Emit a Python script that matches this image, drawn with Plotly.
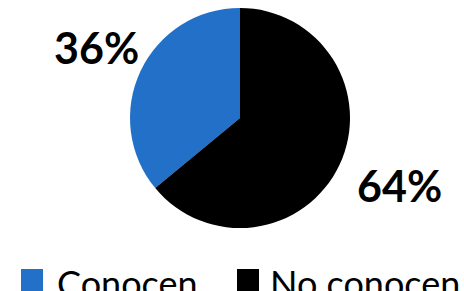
import plotly.graph_objects as go

categories = ["Conocen", "No conocen"]
values = [36, 64]
colors = ["#2270C8", "#000000"]
label_pos = [(96, 48), (399, 185)]          # label centres in px
legend_sq_x = [21, 237]                      # legend square left edges in px
legend_txt_x = [55, 268]

W, H = 464, 291
total = sum(values)
fig = go.Figure(go.Pie(
    labels=categories, values=values, sort=False, direction="clockwise",
    rotation=-360 * values[0] / total,
    marker=dict(colors=colors, line=dict(width=0)),
    textinfo="none", hoverinfo="label+percent", showlegend=False,
    domain=dict(x=[130/W, 350/W], y=[(H-228)/H, (H-8)/H]),
))

ann = []
shapes = []
for i, c in enumerate(categories):
    pct = round(values[i] * 100 / total)
    x, y = label_pos[i]
    ann.append(dict(x=x/W, y=(H-y)/H, xref="paper", yref="paper", text=f"<b>{pct}%</b>",
                    showarrow=False, font=dict(size=43, color="black", family="Lato"),
                    xanchor="center", yanchor="middle"))
    sx = legend_sq_x[i]
    shapes.append(dict(type="rect", xref="paper", yref="paper", x0=sx/W, x1=(sx+22)/W,
                       y0=0, y1=22/H, fillcolor=colors[i], line=dict(width=0)))
    ann.append(dict(x=legend_txt_x[i]/W, y=(H-283)/H, xref="paper", yref="paper", text=c,
                    showarrow=False, font=dict(size=36, color="black", family="Lato"),
                    xanchor="left", yanchor="middle"))

fig.update_layout(width=W, height=H, margin=dict(l=0, r=0, t=0, b=0),
                  paper_bgcolor="white", plot_bgcolor="white",
                  annotations=ann, shapes=shapes)
fig.write_html("out.html", config={"displayModeBar": False},
               post_script="document.body.style.margin='0';")
